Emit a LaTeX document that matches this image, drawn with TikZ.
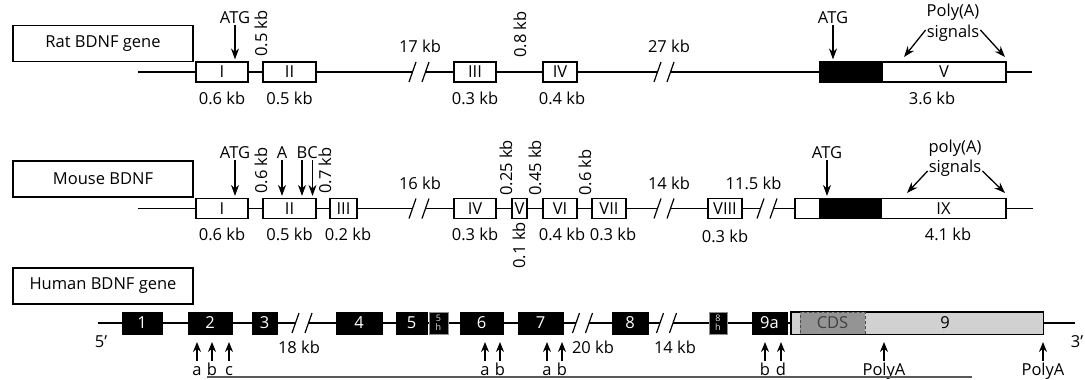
\documentclass[tikz,border=0pt]{standalone}
\usepackage{fontspec}
\setmainfont{Open Sans}
\usetikzlibrary{arrows.meta}

\tikzset{
  gene/.style={line width=1.2pt},
  exon/.style={draw, fill=white, line width=1.2pt, minimum height=20pt, inner sep=0pt},
  hexon/.style={draw, fill=black, text=white, line width=1pt, minimum height=22pt, inner sep=0pt},
  smallexon/.style={hexon, draw=black!45, align=center, text=black!10, font=\fontsize{9}{9}\selectfont},
  namebox/.style={draw, line width=1.2pt, minimum width=180pt, minimum height=36pt},
  lbl/.style={inner sep=1pt},
  vlbl/.style={inner sep=1pt, rotate=90},
  sublbl/.style={inner sep=1pt, anchor=north, text height=13pt, text depth=3pt},
  downarr/.style={line width=1.3pt, -{Stealth[length=11pt, width=8pt]}},
  uparr/.style={line width=1.2pt, -{Stealth[length=10pt, width=8pt]}},
}

\begin{document}
\begin{tikzpicture}[x=1pt, y=-1pt, font=\fontsize{16.5}{19}\selectfont]
    \useasboundingbox (0,0) rectangle (1085,380);

    % Rat gene
    \node[namebox] (ratname) at (103,43.5) {Rat BDNF gene};
    \draw[gene] (138,72) -- (412.5,72) (425.5,72) -- (657.5,72) (670.5,72) -- (1032,72);
    \node[exon, minimum width=52pt] (rI) at (222,72) {I};
    \node[exon, minimum width=53pt] (rII) at (289.5,72) {II};
    \node[exon, minimum width=42pt] (rIII) at (475,72) {III};
    \node[exon, minimum width=34pt] (rIV) at (560,72) {IV};
    \node[exon, fill=black, minimum width=62pt] (rcds) at (851,72) {};
    \node[exon, minimum width=124pt] (rV) at (944,72) {V};

    \node[lbl] (rIkb) at (222,98) {0.6 kb};
    \node[lbl] (rIIkb) at (289.5,98) {0.5 kb};
    \node[lbl] (rIIIkb) at (475,98) {0.3 kb};
    \node[lbl] (rIVkb) at (562,98) {0.4 kb};
    \node[lbl] (rVkb) at (932,98) {3.6 kb};
    \node[lbl] (rgap1) at (420,46) {17 kb};
    \node[lbl] (rgap2) at (669,46) {27 kb};
    \node[vlbl, anchor=west] (rint1) at (261,58) {0.5 kb};
    \node[vlbl, anchor=west] (rint2) at (520,59) {0.8 kb};

    \node[lbl] (ratg1) at (235,18) {ATG};
    \draw[downarr, shorten >=2pt] (ratg1.south) -- (ratg1.south |- rI.north);
    \node[lbl] (ratg2) at (833,18) {ATG};
    \draw[downarr, shorten >=2pt] (ratg2.south) -- (ratg2.south |- rcds.north);

    \node[lbl] (rpoly) at (953,12) {Poly(A)};
    \node[lbl] (rsig) at (953,33) {signals};
    \coordinate (rpa1) at (904,57);
    \coordinate (rpa2) at (1005,57);
    \draw[downarr] ([yshift=3pt]rsig.west) -- (rpa1);
    \draw[downarr] ([yshift=3pt]rsig.east) -- (rpa2);

    % Mouse gene
    \node[namebox] (mousename) at (103,179) {Mouse BDNF};
    \draw[gene] (138,208.5) -- (412.5,208.5) (425.5,208.5) -- (657.5,208.5)
        (670.5,208.5) -- (760.5,208.5) (773.5,208.5) -- (1033,208.5);
    \node[exon, minimum width=52pt] (mI) at (222,208.5) {I};
    \node[exon, minimum width=53pt] (mII) at (289.5,208.5) {II};
    \node[exon, minimum width=27pt] (mIII) at (343.5,208.5) {III};
    \node[exon, minimum width=42pt] (mIV) at (475,208.5) {IV};
    \node[exon, minimum width=15pt] (mV) at (519.5,208.5) {V};
    \node[exon, minimum width=34pt] (mVI) at (560,208.5) {VI};
    \node[exon, minimum width=34pt] (mVII) at (609,208.5) {VII};
    \node[exon, minimum width=34pt] (mVIII) at (725,208.5) {VIII};
    \node[exon, minimum width=25pt] (mpre) at (807.5,208.5) {};
    \node[exon, fill=black, minimum width=61pt] (mcds) at (850.5,208.5) {};
    \node[exon, minimum width=125pt] (mIX) at (943.5,208.5) {IX};

    \node[lbl] (mIkb) at (222,234) {0.6 kb};
    \node[lbl] (mIIkb) at (289.5,234) {0.5 kb};
    \node[lbl] (mIIIkb) at (348,234) {0.2 kb};
    \node[lbl] (mIVkb) at (475,234) {0.3 kb};
    \node[lbl] (mVIkb) at (562,234) {0.4 kb};
    \node[lbl] (mVIIkb) at (613,234) {0.3 kb};
    \node[lbl] (mVIIIkb) at (725,236) {0.3 kb};
    \node[lbl] (mIXkb) at (948,234) {4.1 kb};
    \node[vlbl, anchor=east] (mVkb) at (519,221) {0.1 kb};
    \node[lbl] (mgap1) at (420,183) {16 kb};
    \node[lbl] (mgap2) at (669,183) {14 kb};
    \node[lbl] (mgap3) at (753.5,183) {11.5 kb};
    \node[vlbl, anchor=west] (mint1) at (261,195) {0.6 kb};
    \node[vlbl, anchor=west] (mint2) at (325,195) {0.7 kb};
    \node[vlbl, anchor=west] (mint3) at (506,197) {0.25 kb};
    \node[vlbl, anchor=west] (mint4) at (535,197) {0.45 kb};
    \node[vlbl, anchor=west] (mint5) at (585,197) {0.6 kb};

    \node[lbl] (matg1) at (235,153) {ATG};
    \node[lbl] (mA) at (282,153) {A};
    \node[lbl] (mB) at (302,153) {B};
    \node[lbl] (mC) at (312.5,153) {C};
    \foreach \n in {matg1, mA, mB, mC}
        \draw[downarr, shorten >=2pt] (\n.south) -- (\n.south |- mII.north);
    \node[lbl] (matg2) at (827,153) {ATG};
    \draw[downarr, shorten >=2pt] (matg2.south) -- (matg2.south |- mcds.north);

    \node[lbl] (mpoly) at (955,148) {poly(A)};
    \node[lbl] (msig) at (955,168) {signals};
    \coordinate (mpa1) at (907,193);
    \coordinate (mpa2) at (1005,193);
    \draw[downarr] ([yshift=-3pt]msig.west) -- (mpa1);
    \draw[downarr] ([yshift=-3pt]msig.east) -- (mpa2);

    % Human gene
    \node[namebox] (humanname) at (103,286) {Human BDNF gene};
    \draw[gene] (98,323) -- (295.5,323) (308.5,323) -- (576,323)
        (589,323) -- (660,323) (673,323) -- (1075,323);
    \node[hexon, minimum width=40pt] (h1) at (142,323) {1};
    \node[hexon, minimum width=44pt] (h2) at (210,323) {2};
    \node[hexon, minimum width=25pt] (h3) at (264.5,323) {3};
    \node[hexon, minimum width=46pt] (h4) at (359,323) {4};
    \node[hexon, minimum width=31pt] (h5) at (411.5,323) {5};
    \node[smallexon, minimum width=19pt] (h5h) at (438.5,323) {5\\h};
    \node[hexon, minimum width=43pt] (h6) at (481.5,323) {6};
    \node[hexon, minimum width=45pt] (h7) at (540.5,323) {7};
    \node[hexon, minimum width=36pt] (h8) at (630,323) {8};
    \node[smallexon, minimum width=18pt] (h8h) at (718,323) {8\\h};
    \node[hexon, minimum width=35pt] (h9a) at (769.5,323) {9a};
    \node[hexon, fill=black!18, minimum width=252pt] (h9) at (917,323) {};
    \node[fill=black!42, draw=black!70, dash pattern=on 3pt off 2pt, line width=1pt,
        minimum width=65pt, minimum height=22pt, inner sep=0pt, text=black!75] (hcds) at (832.5,323) {CDS};
    \draw[line width=1pt] (h9.north west) rectangle (h9.south east);
    \node[lbl] (h9lbl) at (945,323) {9};

    \node[lbl] (five) at (101,342) {5’};
    \node[lbl] (three) at (1077,342) {3’};
    \node[lbl] (hgap1) at (299,347) {18 kb};
    \node[lbl] (hgap2) at (593,347) {20 kb};
    \node[lbl] (hgap3) at (675,347) {14 kb};

    % Promotor arrows
    \foreach \x/\t/\n in {197/a/2a, 212/b/2b, 229/c/2c, 485/a/6a, 500/b/6b,
        547/a/7a, 562/b/7b, 765/b/9b, 781/d/9d, 884/PolyA/pa1, 1043/PolyA/pa2} {
        \node[sublbl] (s\n) at (\x,361) {\t};
        \draw[uparr] (s\n.north) -- ++(0,-19);
    }
    \draw[line width=2pt, black!65] (207,377) -- (972,377);

    % Breaks
    \foreach \xc/\yc in {419/72, 664/72, 419/208.5, 664/208.5, 767/208.5,
        302/323, 582.5/323, 666.5/323}
        \draw[gene] (\xc-10,\yc+10) -- (\xc-3,\yc-10) (\xc+3,\yc+10) -- (\xc+10,\yc-10);
\end{tikzpicture}
\end{document}
